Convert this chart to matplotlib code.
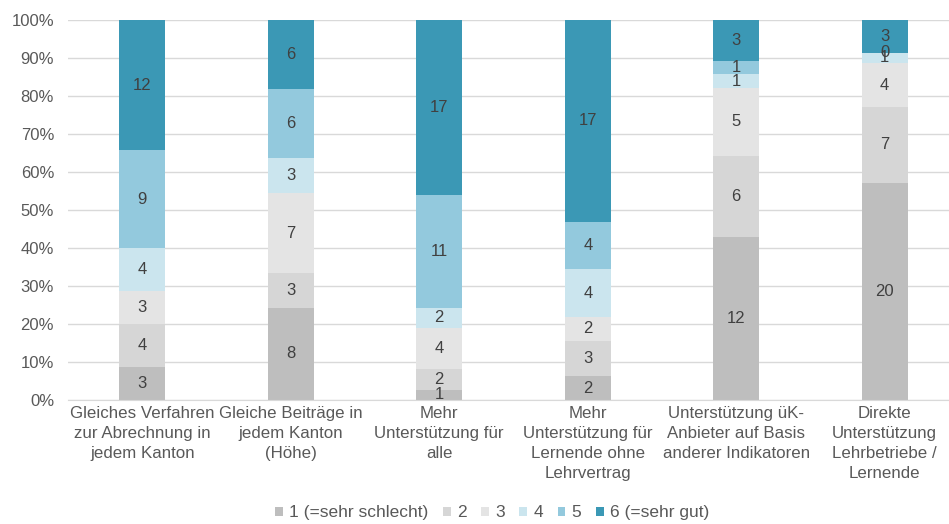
import matplotlib.pyplot as plt
import numpy as np

plt.rcParams['font.family'] = ['Liberation Sans', 'DejaVu Sans']

categories = [
    "Gleiches Verfahren\nzur Abrechnung in\njedem Kanton",
    "Gleiche Beiträge in\njedem Kanton\n(Höhe)",
    "Mehr\nUnterstützung für\nalle",
    "Mehr\nUnterstützung für\nLernende ohne\nLehrvertrag",
    "Unterstützung üK-\nAnbieter auf Basis\nanderer Indikatoren",
    "Direkte\nUnterstützung\nLehrbetriebe /\nLernende",
]
series_names = ["1 (=sehr schlecht)", "2", "3", "4", "5", "6 (=sehr gut)"]
counts = {
    "1 (=sehr schlecht)": [3, 8, 1, 2, 12, 20],
    "2": [4, 3, 2, 3, 6, 7],
    "3": [3, 7, 4, 2, 5, 4],
    "4": [4, 3, 2, 4, 1, 1],
    "5": [9, 6, 11, 4, 1, 0],
    "6 (=sehr gut)": [12, 6, 17, 17, 3, 3],
}
colors = ["#BEBEBE", "#D6D6D6", "#E4E4E4", "#CBE5EE", "#93C9DD", "#3B98B5"]

data = np.array([counts[s] for s in series_names], dtype=float)
shares = data / data.sum(axis=0)

fig = plt.figure(figsize=(9.49, 5.24), dpi=100)
ax = fig.add_axes([68 / 949, 1 - 400 / 524, 891 / 949, 380 / 524])

x = np.arange(len(categories))
bottom = np.zeros(len(categories))
for i, name in enumerate(series_names):
    bars = ax.bar(x, shares[i], 0.31, bottom=bottom, color=colors[i],
                  label=name, zorder=2)
    ax.bar_label(bars, labels=[str(int(v)) for v in data[i]],
                 label_type='center', fontsize=12, color='#404040')
    bottom += shares[i]

ax.set_xlim(-0.5, len(categories) - 0.5)
ax.set_ylim(0, 1)
ax.set_yticks(np.arange(0, 1.01, 0.1))
ax.set_yticklabels([f"{int(round(v * 100))}%" for v in np.arange(0, 1.01, 0.1)])
ax.set_xticks(x)
ax.set_xticklabels(categories, fontsize=12.2, color='#595959', linespacing=1.42)
ax.tick_params(axis='y', labelsize=12, labelcolor='#595959', length=0, pad=10)
ax.tick_params(axis='x', length=0, pad=4)
ax.grid(axis='y', color='#D9D9D9', linewidth=1, zorder=0)
for side in ['left', 'right', 'top']:
    ax.spines[side].set_visible(False)
ax.spines['bottom'].set_color('#D9D9D9')

fig.legend(loc='center', bbox_to_anchor=(492 / 949, 0.021), ncol=6,
           frameon=False, fontsize=12.5, handlelength=0.45, handleheight=0.45,
           handletextpad=0.35, columnspacing=0.85, labelcolor='#595959')

fig.savefig("out.png", dpi=100)
